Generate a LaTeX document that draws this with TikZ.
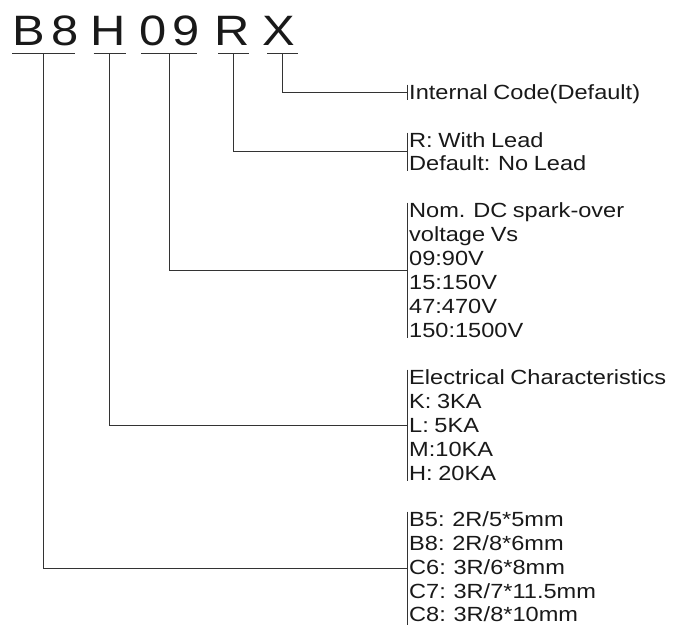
\documentclass[tikz,border=0pt]{standalone}
\usepackage{fontspec}
\setmainfont{Liberation Sans}[FakeStretch=1.15, WordSpace=0.85]
\begin{document}
\begin{tikzpicture}[x=1pt,y=-1pt,
  big/.style={font=\fontsize{42.5}{48}\selectfont, inner sep=0pt, anchor=base, text=black!90},
  txt/.style={font=\fontsize{20.5}{24}\selectfont, inner sep=0pt, anchor=base west, text=black!90},
  uline/.style={inner sep=0pt, outer sep=0pt, minimum height=0pt},
  ln/.style={draw=black!80, line width=0.9pt}]
\useasboundingbox (0,0) rectangle (677,625);

% code letters
\node[big] (lB) at (28.5,45) {B};
\node[big] (l8) at (65,45) {8};
\node[big] (lH) at (108,45) {H};
\node[big] (l0) at (153,45) {0};
\node[big] (l9) at (186.5,45) {9};
\node[big] (lR) at (232,45) {R};
\node[big] (lX) at (279,45) {X};

% underlines
\node[uline, minimum width=63pt] (uB8) at (43.5,53) {};
\node[uline, minimum width=32pt] (uH) at (109.5,53) {};
\node[uline, minimum width=56pt] (u09) at (169,53) {};
\node[uline, minimum width=31pt] (uR) at (233.5,53) {};
\node[uline, minimum width=31pt] (uX) at (282.5,53) {};
\foreach \u in {uB8,uH,u09,uR,uX} \draw[ln] (\u.west) -- (\u.east);

% block 1
\node[txt] (t11) at (409,99) {Internal Code(Default)};
\coordinate (s1) at (407.5,84.5);
\coordinate (e1) at (407.5,99.5);
\coordinate (j1) at (407.5,92);

% block 2
\node[txt] (t21) at (409,147) {R: With Lead};
\node[txt] (t22) at (409,170) {Default: No Lead};
\coordinate (s2) at (407.5,132.5);
\coordinate (e2) at (407.5,170.5);
\coordinate (j2) at (407.5,151.5);

% block 3
\node[txt] (t31) at (409,217) {Nom. DC spark-over};
\node[txt] (t32) at (409,241) {voltage Vs};
\node[txt] (t33) at (409,265) {09:90V};
\node[txt] (t34) at (409,289) {15:150V};
\node[txt] (t35) at (409,313) {47:470V};
\node[txt] (t36) at (409,337) {150:1500V};
\coordinate (s3) at (407.5,202.5);
\coordinate (e3) at (407.5,337.5);
\coordinate (j3) at (407.5,270);

% block 4
\node[txt] (t41) at (409,384) {Electrical Characteristics};
\node[txt] (t42) at (409,408) {K: 3KA};
\node[txt] (t43) at (409,432) {L: 5KA};
\node[txt] (t44) at (409,456) {M:10KA};
\node[txt] (t45) at (409,480) {H: 20KA};
\coordinate (s4) at (407.5,369.5);
\coordinate (e4) at (407.5,480.5);
\coordinate (j4) at (407.5,425);

% block 5
\node[txt] (t51) at (409,526) {B5: 2R/5*5mm};
\node[txt] (t52) at (409,550) {B8: 2R/8*6mm};
\node[txt] (t53) at (409,574) {C6: 3R/6*8mm};
\node[txt] (t54) at (409,598) {C7: 3R/7*11.5mm};
\node[txt] (t55) at (409,621) {C8: 3R/8*10mm};
\coordinate (s5) at (407.5,511.5);
\coordinate (e5) at (407.5,625);
\coordinate (j5) at (407.5,568.5);

% brackets
\foreach \i in {1,...,5} \draw[ln] (s\i) -- (e\i);

% connectors
\draw[ln] (uX.center) |- (j1);
\draw[ln] (uR.center) |- (j2);
\draw[ln] (u09.center) |- (j3);
\draw[ln] (uH.center) |- (j4);
\draw[ln] (uB8.center) |- (j5);
\end{tikzpicture}
\end{document}
